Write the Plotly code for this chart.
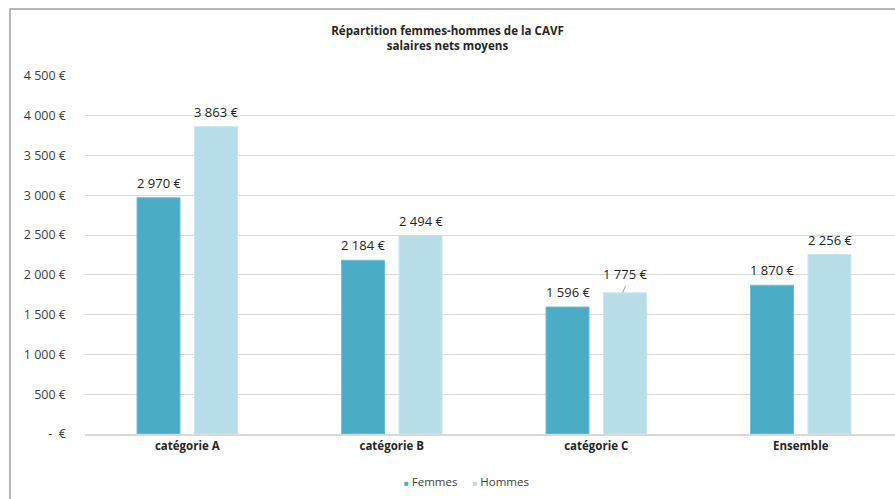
import plotly.graph_objects as go

categories = ["catégorie A", "catégorie B", "catégorie C", "Ensemble"]
femmes = [2970, 2184, 1596, 1870]
hommes = [3863, 2494, 1775, 2256]
tick_vals = [0, 500, 1000, 1500, 2000, 2500, 3000, 3500, 4000, 4500]
tick_text = ["-  €", "500 €", "1 000 €", "1 500 €", "2 000 €", "2 500 €",
             "3 000 €", "3 500 €", "4 000 €", "4 500 €"]

FONT = "Open Sans"
C_F = "#4BACC6"
C_H = "#B7DEE8"

PLOT_L, PLOT_W = 85, 810
PLOT_B, PLOT_H = 434, 358
SLOT = 204.5


def euro(v):
    s = f"{v:,}".replace(",", " ")
    return f"{s} €"


fig = go.Figure()
fig.add_trace(go.Bar(name="Femmes", x=categories, y=femmes, showlegend=False,
                     marker=dict(color=C_F, line=dict(color="#6FC0D6", width=1))))
fig.add_trace(go.Bar(name="Hommes", x=categories, y=hommes, showlegend=False,
                     marker=dict(color=C_H, line=dict(color="#C9E7EF", width=1))))

# value labels above each bar
annotations = []
for series, shift in ((femmes, -28.75), (hommes, 28.75)):
    for cat, v in zip(categories, series):
        lift = 19 if (series is hommes and cat == "catégorie C") else 15
        annotations.append(dict(x=cat, y=v, xref="x", yref="y", text=euro(v), showarrow=False,
                                xshift=shift, yshift=lift, yanchor="middle",
                                font=dict(family=FONT, size=13, color="#262626")))

# compact legend line under the axis
legend_text = (f'<span style="color:{C_F};font-size:8px">■</span> Femmes'
               f'&nbsp;&nbsp;&nbsp;&nbsp;&nbsp;'
               f'<span style="color:{C_H};font-size:8px">■</span> Hommes')
annotations.append(dict(x=(466 - PLOT_L) / PLOT_W, y=(PLOT_B - 481) / PLOT_H,
                        xref="paper", yref="paper", text=legend_text, showarrow=False,
                        xanchor="center", yanchor="middle",
                        font=dict(family=FONT, size=11.5, color="#404040")))

shapes = [
    # small leader line for the raised label
    dict(type="line", xref="paper", yref="paper",
         x0=(622.5 - PLOT_L) / PLOT_W, x1=(625.5 - PLOT_L) / PLOT_W,
         y0=(PLOT_B - 293) / PLOT_H, y1=(PLOT_B - 286) / PLOT_H,
         line=dict(color="#A6A6A6", width=1)),
    # chart frame
    dict(type="rect", xref="paper", yref="paper",
         x0=(10 - PLOT_L) / PLOT_W, x1=1.2, y0=-0.3, y1=(PLOT_B - 9) / PLOT_H,
         line=dict(color="#A0A0A0", width=1.5), fillcolor="rgba(0,0,0,0)", layer="below"),
]

fig.update_layout(
    width=895, height=499,
    margin=dict(l=PLOT_L, r=0, t=PLOT_B - PLOT_H, b=499 - PLOT_B),
    paper_bgcolor="white", plot_bgcolor="white",
    barmode="group", bargap=0.438, bargroupgap=0.252,
    showlegend=False,
    font=dict(family=FONT, size=11.5, color="#404040"),
    title=dict(text="<b>Répartition femmes-hommes de la CAVF<br>salaires nets moyens</b>",
               x=0.5, xanchor="center", xref="container", y=0.93, yanchor="top",
               font=dict(family=FONT, size=11.6, color="#262626")),
    xaxis=dict(range=[-0.5, -0.5 + PLOT_W / SLOT], showgrid=False, showline=True,
               linecolor="#D9D9D9", linewidth=2, ticks="",
               tickfont=dict(family=FONT, size=11.5, color="#262626", weight="bold")),
    yaxis=dict(range=[0, 4500], tickvals=tick_vals, ticktext=tick_text, showgrid=True,
               gridcolor="#D9D9D9", gridwidth=1, zeroline=False, ticks="",
               ticklabelstandoff=18, tickfont=dict(family=FONT, size=12.5, color="#404040")),
    annotations=annotations,
    shapes=shapes,
)

fig.write_html("out.html")
